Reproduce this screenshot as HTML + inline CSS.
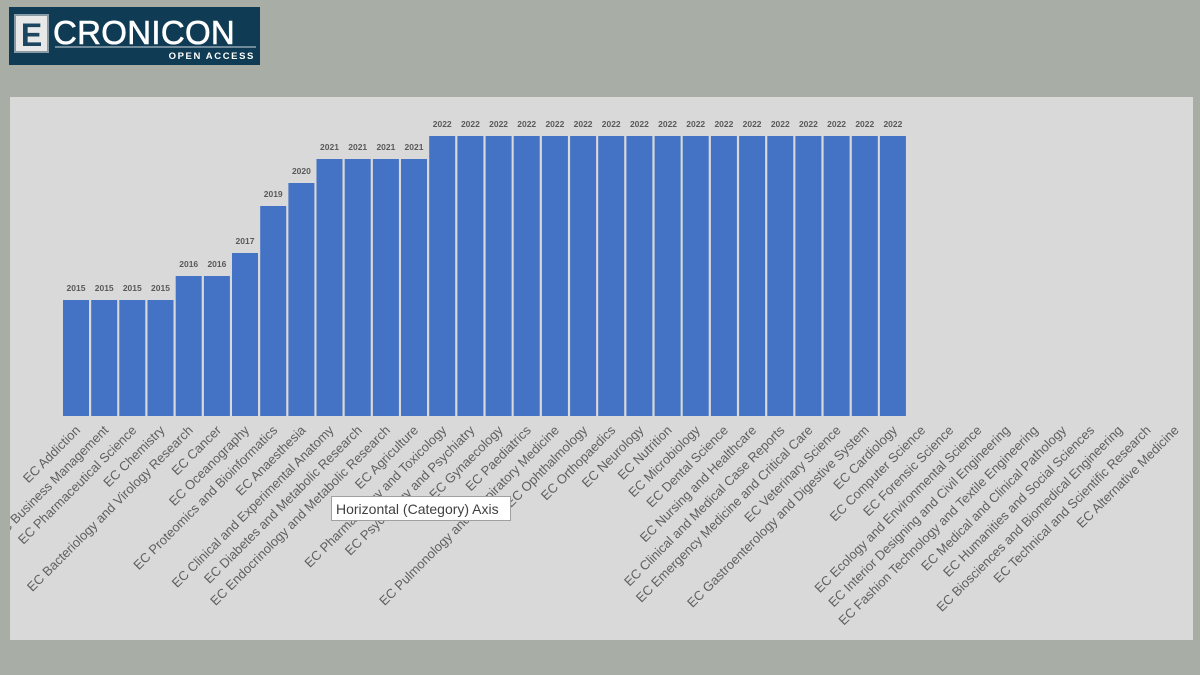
<!DOCTYPE html>
<html><head><meta charset="utf-8"><style>
html,body{margin:0;padding:0;background:#a8aea6;}
body{width:1200px;height:675px;position:relative;overflow:hidden;font-family:"Liberation Sans",sans-serif;}
</style></head><body>
<svg width="1200" height="675" xmlns="http://www.w3.org/2000/svg" style="position:absolute;left:0;top:0">
<defs><clipPath id="pc"><rect x="10" y="97" width="1183" height="543"/></clipPath></defs>
<rect x="0" y="0" width="1200" height="675" fill="#a8aea6"/>
<rect x="9" y="7" width="251" height="58" fill="#0f3b55"/>
<rect x="15" y="15" width="33" height="37" fill="#e8e8e8" stroke="#8a9aa5" stroke-width="2"/>
<text x="31.5" y="46" font-size="32" font-weight="bold" fill="#1b4560" text-anchor="middle">E</text>
<text x="53" y="44" font-size="33" fill="#ffffff" stroke="#ffffff" stroke-width="0.6" letter-spacing="0.3">CRONICON</text>
<line x1="55" y1="47" x2="256" y2="47" stroke="#d0d8de" stroke-width="1"/>
<text x="255" y="59" font-size="9.5" font-weight="bold" fill="#ffffff" text-anchor="end" letter-spacing="1.6">OPEN ACCESS</text>
<rect x="10" y="97" width="1183" height="543" fill="#d9d9d9"/>
<g id="chart" clip-path="url(#pc)"></g>
<rect x="331.5" y="496.5" width="179" height="24" fill="#ffffff" stroke="#a0a0a0"/>
<text x="336" y="514" font-size="14" fill="#404040">Horizontal (Category) Axis</text>
</svg>
<script>
(function(){
const labels=["EC Addiction","EC Business Management","EC Pharmaceutical Science","EC Chemistry","EC Bacteriology and Virology Research","EC Cancer","EC Oceanography","EC Proteomics and Bioinformatics","EC Anaesthesia","EC Clinical and Experimental Anatomy","EC Diabetes and Metabolic Research","EC Endocrinology and Metabolic Research","EC Agriculture","EC Pharmacology and Toxicology","EC Psychology and Psychiatry","EC Gynaecology","EC Paediatrics","EC Pulmonology and Respiratory Medicine","EC Ophthalmology","EC Orthopaedics","EC Neurology","EC Nutrition","EC Microbiology","EC Dental Science","EC Nursing and Healthcare","EC Clinical and Medical Case Reports","EC Emergency Medicine and Critical Care","EC Veterinary Science","EC Gastroenterology and Digestive System","EC Cardiology","EC Computer Science","EC Forensic Science","EC Ecology and Environmental Science","EC Interior Designing and Civil Engineering","EC Fashion Technology and Textile Engineering","EC Medical and Clinical Pathology","EC Humanities and Social Sciences","EC Biosciences and Biomedical Engineering","EC Technical and Scientific Research","EC Alternative Medicine"];
const vals=[2015,2015,2015,2015,2016,2016,2017,2019,2020,2021,2021,2021,2021];
while(vals.length<30)vals.push(2022);
const g=document.getElementById('chart');
let h="";
const pitch=28.17,x0=63,bw=26,base=416;
const tops={2015:300,2016:276,2017:253,2019:206,2020:183,2021:159,2022:136};
for(let i=0;i<40;i++){
 const x=x0+i*pitch, cx=x+bw/2;
 if(i<30){const v=vals[i],t=tops[v];
  h+=`<rect x="${x.toFixed(1)}" y="${t}" width="${bw}" height="${base-t}" fill="#4472c4"/>`;
  h+=`<text x="${cx.toFixed(1)}" y="${t-9}" font-size="8.5" font-weight="bold" fill="#595959" text-anchor="middle">${v}</text>`;}
 h+=`<text transform="translate(${(cx+5).toFixed(1)},431) rotate(-45)" font-size="13" fill="#5f5f5f" text-anchor="end">${labels[i]}</text>`;
}
g.innerHTML=h;
})();
</script>
</body></html>
